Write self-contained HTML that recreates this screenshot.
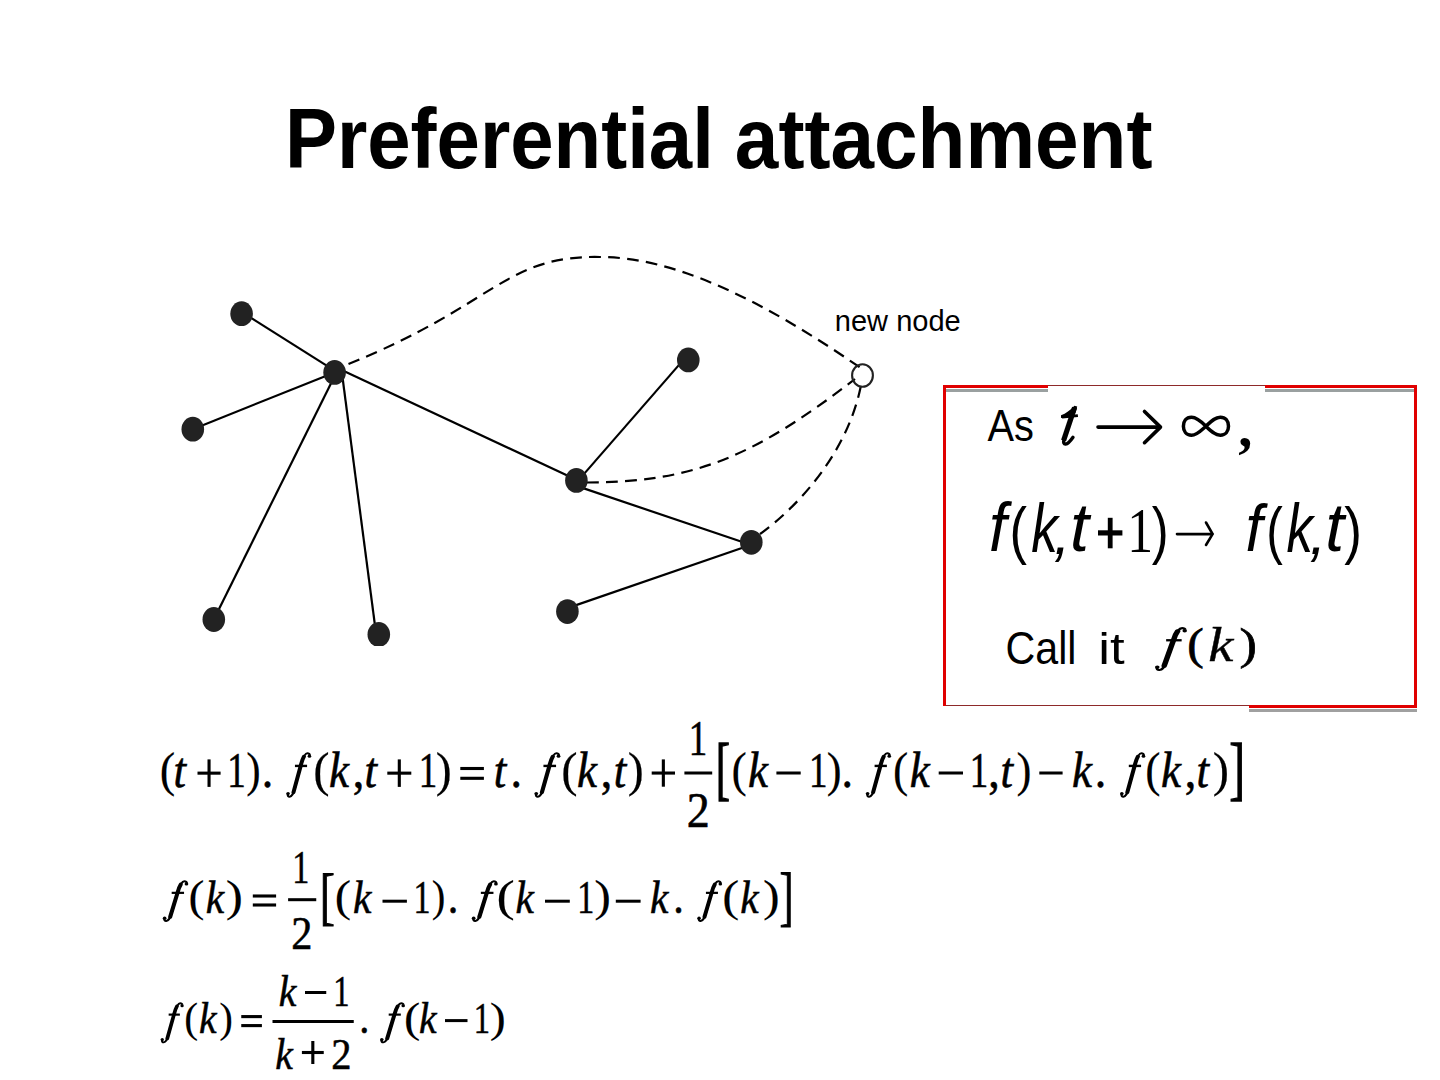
<!DOCTYPE html>
<html><head><meta charset="utf-8"><title>Preferential attachment</title>
<style>
html,body{margin:0;padding:0;background:#fff;}
body{width:1440px;height:1080px;overflow:hidden;position:relative;}
svg{position:absolute;left:0;top:0;}
text{font-size:100px;white-space:pre;}
.sans{font-family:"Liberation Sans",sans-serif;}
.serif{font-family:"Liberation Serif",serif;}
.eq text{stroke:#000;stroke-width:1.2px;}
</style></head><body>
<svg width="1440" height="1080" viewBox="0 0 1440 1080">
<text transform="translate(284.93 167.65) scale(0.77968 0.85034)" class="sans" font-weight="bold">Preferential</text>
<text transform="translate(734.85 167.65) scale(0.78299 0.85034)" class="sans" font-weight="bold">attachment</text>
<text transform="translate(834.81 330.54) scale(0.29054 0.30405)" class="sans">new node</text>
<g stroke="#000" stroke-width="2.2"><line x1="241.6" y1="311.9" x2="334.6" y2="370.6"/><line x1="192.8" y1="429.2" x2="334.6" y2="372.4"/><line x1="213.8" y1="619.5" x2="336.4" y2="372.4"/><line x1="376.1" y1="634" x2="341.8" y2="372"/><line x1="340" y1="369.2" x2="576.4" y2="479.8"/><line x1="578.4" y1="480.4" x2="683.4" y2="359.9"/><line x1="576.4" y1="485.9" x2="751.3" y2="545"/><line x1="567.4" y1="608.1" x2="751.3" y2="544.8"/><path d="M348.5,364 C495,305 505,255 600,257 C670,257 755,295 860,367.5" fill="none" stroke-dasharray="11.7 7.3"/><path d="M587,482.5 C690,482 750,460 855,379" fill="none" stroke-dasharray="11.7 7.3"/><path d="M760,534 C800,505 850,450 862,380" fill="none" stroke-dasharray="11.7 7.3"/></g><ellipse cx="241.6" cy="313.7" rx="11.3" ry="12.4" fill="#222"/><ellipse cx="334.6" cy="372.4" rx="11.3" ry="12.4" fill="#222"/><ellipse cx="192.8" cy="429.2" rx="11.3" ry="12.4" fill="#222"/><ellipse cx="213.8" cy="619.5" rx="11.3" ry="12.4" fill="#222"/><ellipse cx="378.8" cy="634.4" rx="11.3" ry="12.4" fill="#222"/><ellipse cx="688.3" cy="359.9" rx="11.3" ry="12.4" fill="#222"/><ellipse cx="576.4" cy="480.4" rx="11.3" ry="12.4" fill="#222"/><ellipse cx="751.3" cy="542.3" rx="11.3" ry="12.4" fill="#222"/><ellipse cx="567.4" cy="611.6" rx="11.3" ry="12.4" fill="#222"/><ellipse cx="862.5" cy="375.5" rx="10.4" ry="11.2" fill="none" stroke="#222" stroke-width="2.1"/>
<rect x="360" y="646" width="40" height="20" fill="#fff"/>
<rect x="943" y="389" width="474" height="3" fill="#9aa0a0"/><rect x="943" y="709" width="474" height="3" fill="#a0a0a0"/><rect x="944.5" y="386.5" width="471" height="320" fill="none" stroke="#e00000" stroke-width="3"/><rect x="1048" y="386" width="217" height="120" fill="#fff"/><rect x="940" y="706" width="309" height="10" fill="#fff"/><rect x="1048" y="385" width="217" height="1" fill="#8e2a2a"/><rect x="946" y="705" width="303" height="1" fill="#8e2a2a"/>
<text transform="translate(987.60 441.35) scale(0.39733 0.44571)" class="sans">As</text>
<g fill="none" stroke="#000"><path d="M1074.6,407.5 L1063.6,440.5" stroke-width="5.2"/><path d="M1063.9,439.5 C1062.6,445.8 1066.8,446.3 1073,437.3" stroke-width="3.4" stroke-linecap="round"/><path d="M1062,417 L1077.9,415.6" stroke-width="2.9"/></g><path d="M1074.4,405.8 C1070,410.5 1066,413.5 1061,415.2 L1061,418 L1070,417 L1075.6,412.5 L1077.2,406.4 Z" fill="#000"/>
<g stroke="#000" stroke-width="3.6" fill="none" stroke-linecap="round" stroke-linejoin="round"><path d="M1098,427.1 H1159"/><path d="M1144.5,411.5 L1160.5,427.1 L1144.5,442.7"/></g>
<path d="M1205.9,426.25 C1198,418 1193,417.2 1191.5,417.2 C1186,417.2 1183.4,421.5 1183.4,426.25 C1183.4,431 1186,435.2 1191.5,435.2 C1197,435.2 1201,430.5 1205.9,426.25 C1211,421.5 1215,417.2 1220.3,417.2 C1225.5,417.2 1228.5,421 1228.5,426.25 C1228.5,431.5 1225.5,435.2 1220.3,435.2 C1215,435.2 1211,431 1205.9,426.25 Z" fill="none" stroke="#000" stroke-width="3.5"/>
<text transform="translate(1238.15 446.41) scale(0.56410 0.57333)" class="serif" font-weight="bold">,</text>
<text transform="translate(988.89 551.46) scale(0.63030 0.68493)" class="sans" font-style="italic">f</text>
<text transform="translate(1009.45 551.91) scale(0.52453 0.62353)" class="sans">(</text>
<text transform="translate(1031.20 551.80) scale(0.53143 0.68000)" class="sans" font-style="italic">k</text>
<text transform="translate(1053.71 553.65) scale(0.60417 0.60417)" class="sans" font-style="italic">,</text>
<text transform="translate(1069.93 551.11) scale(0.68302 0.69394)" class="sans" font-style="italic">t</text>
<rect x="1098" y="530.3" width="24.4" height="5.2" fill="#000"/><rect x="1107.8" y="517.8" width="4.8" height="30.5" fill="#000"/>
<text transform="translate(1127.35 551.80) scale(0.51714 0.64242)" class="serif">1</text>
<text transform="translate(1151.69 551.91) scale(0.50769 0.62353)" class="sans">)</text>
<g stroke="#000" stroke-width="2.6" fill="none" stroke-linecap="round"><path d="M1177,534.1 H1212"/><path d="M1206,522.5 L1212.6,534.1 L1206,545"/></g>
<text transform="translate(1245.46 551.46) scale(0.61212 0.67534)" class="sans" font-style="italic">f</text>
<text transform="translate(1266.21 551.91) scale(0.49811 0.62353)" class="sans">(</text>
<text transform="translate(1286.41 551.80) scale(0.52952 0.68000)" class="sans" font-style="italic">k</text>
<text transform="translate(1309.56 553.65) scale(0.60417 0.60417)" class="sans" font-style="italic">,</text>
<text transform="translate(1325.13 551.11) scale(0.68113 0.69394)" class="sans" font-style="italic">t</text>
<text transform="translate(1344.37 551.91) scale(0.53269 0.62353)" class="sans">)</text>
<text transform="translate(1005.54 663.64) scale(0.41184 0.45578)" class="sans">Call</text>
<text transform="translate(1098.17 663.66) scale(0.52791 0.44354)" class="sans">it</text>
<g transform="translate(1155.00 660.28) scale(0.6362 0.4633)"><path d="M3.4,14.8 C2.2,19.5 4.5,21.2 6.8,21 C11,20.6 14.5,16 17.5,3 L29,-43 C33,-59 37,-69.5 42.5,-69.5 C45,-69.5 47,-68 47.3,-65.5" fill="none" stroke="#000" stroke-width="4.76"/><path d="M14.5,12 L29,-43 C31,-52 33,-58 35.5,-62.5" fill="none" stroke="#000" stroke-width="8.68" stroke-linecap="round"/><circle cx="3.6" cy="14.6" r="3.6"/><circle cx="46.7" cy="-63.6" r="3.6"/><rect x="17.5" y="-45.7" width="24.4" height="5"/></g>
<text transform="translate(1187.18 659.19) scale(0.49412 0.44333)" class="serif" stroke="#000" stroke-width="1.6">(</text>
<text transform="translate(1208.20 661.00) scale(0.56512 0.48058)" class="serif" font-style="italic" stroke="#000" stroke-width="0.8">k</text>
<text transform="translate(1239.43 659.19) scale(0.52308 0.44333)" class="serif" stroke="#000" stroke-width="1.6">)</text>
<g fill="#000" class="eq"><text transform="translate(159.81 786.04) scale(0.46471 0.48611)" class="serif" style="stroke-width:0.3px">(</text><text transform="translate(173.60 787.00) scale(0.45000 0.50000)" class="serif" font-style="italic">t</text><rect x="197.50" y="771.60" width="23.10" height="3.1"/><rect x="207.50" y="759.40" width="3.1" height="27.50"/><text transform="translate(227.37 787.00) scale(0.37000 0.50000)" class="serif">1</text><text transform="translate(246.20 786.04) scale(0.43269 0.48611)" class="serif" style="stroke-width:0.3px">)</text><text transform="translate(261.75 787.00) scale(0.46000 0.50000)" class="serif">.</text><g transform="translate(286.25 786.62) scale(0.4970 0.4792)"><path d="M3.4,14.8 C2.2,19.5 4.5,21.2 6.8,21 C11,20.6 14.5,16 17.5,3 L29,-43 C33,-59 37,-69.5 42.5,-69.5 C45,-69.5 47,-68 47.3,-65.5" fill="none" stroke="#000" stroke-width="4.42"/><path d="M14.5,12 L29,-43 C31,-52 33,-58 35.5,-62.5" fill="none" stroke="#000" stroke-width="8.06" stroke-linecap="round"/><circle cx="3.6" cy="14.6" r="3.6"/><circle cx="46.7" cy="-63.6" r="3.6"/><rect x="17.5" y="-45.7" width="24.4" height="5"/></g><text transform="translate(313.19 786.04) scale(0.49020 0.48611)" class="serif" style="stroke-width:0.3px">(</text><text transform="translate(328.88 787.00) scale(0.45000 0.50000)" class="serif" font-style="italic">k</text><text transform="translate(352.82 787.00) scale(0.46000 0.50000)" class="serif">,</text><text transform="translate(364.55 787.00) scale(0.45000 0.50000)" class="serif" font-style="italic">t</text><rect x="387.30" y="771.60" width="24.00" height="3.1"/><rect x="397.75" y="759.40" width="3.1" height="27.50"/><text transform="translate(418.64 787.00) scale(0.37000 0.50000)" class="serif">1</text><text transform="translate(435.86 786.04) scale(0.48077 0.48611)" class="serif" style="stroke-width:0.3px">)</text><rect x="460.30" y="766.95" width="23.60" height="3.1"/><rect x="460.30" y="776.75" width="23.60" height="3.1"/><text transform="translate(493.85 787.00) scale(0.45000 0.50000)" class="serif" font-style="italic">t</text><text transform="translate(510.50 787.00) scale(0.46000 0.50000)" class="serif">.</text><g transform="translate(534.40 786.62) scale(0.5169 0.4792)"><path d="M3.4,14.8 C2.2,19.5 4.5,21.2 6.8,21 C11,20.6 14.5,16 17.5,3 L29,-43 C33,-59 37,-69.5 42.5,-69.5 C45,-69.5 47,-68 47.3,-65.5" fill="none" stroke="#000" stroke-width="4.42"/><path d="M14.5,12 L29,-43 C31,-52 33,-58 35.5,-62.5" fill="none" stroke="#000" stroke-width="8.06" stroke-linecap="round"/><circle cx="3.6" cy="14.6" r="3.6"/><circle cx="46.7" cy="-63.6" r="3.6"/><rect x="17.5" y="-45.7" width="24.4" height="5"/></g><text transform="translate(561.29 786.04) scale(0.49020 0.48611)" class="serif" style="stroke-width:0.3px">(</text><text transform="translate(576.98 787.00) scale(0.45000 0.50000)" class="serif" font-style="italic">k</text><text transform="translate(600.83 787.00) scale(0.46000 0.50000)" class="serif">,</text><text transform="translate(613.65 787.00) scale(0.45000 0.50000)" class="serif" font-style="italic">t</text><text transform="translate(627.76 786.04) scale(0.48077 0.48611)" class="serif" style="stroke-width:0.3px">)</text><rect x="651.70" y="771.50" width="23.30" height="3.1"/><rect x="661.80" y="759.40" width="3.1" height="27.30"/><rect x="684.40" y="771.50" width="27.80" height="3.0"/><text transform="translate(688.85 755.00) scale(0.37000 0.50000)" class="serif">1</text><text transform="translate(686.78 826.70) scale(0.46000 0.50000)" class="serif">2</text><text transform="translate(715.70 792.24) scale(0.42727 0.70061)" class="serif" style="stroke-width:1.8px">[</text><text transform="translate(731.54 786.04) scale(0.45882 0.48611)" class="serif" style="stroke-width:0.3px">(</text><text transform="translate(747.88 787.00) scale(0.45000 0.50000)" class="serif" font-style="italic">k</text><rect x="776.40" y="771.50" width="24.30" height="3.0"/><text transform="translate(808.90 787.00) scale(0.37000 0.50000)" class="serif">1</text><text transform="translate(826.66 786.04) scale(0.44615 0.48611)" class="serif" style="stroke-width:0.3px">)</text><text transform="translate(841.60 787.00) scale(0.46000 0.50000)" class="serif">.</text><g transform="translate(865.80 786.62) scale(0.5030 0.4792)"><path d="M3.4,14.8 C2.2,19.5 4.5,21.2 6.8,21 C11,20.6 14.5,16 17.5,3 L29,-43 C33,-59 37,-69.5 42.5,-69.5 C45,-69.5 47,-68 47.3,-65.5" fill="none" stroke="#000" stroke-width="4.42"/><path d="M14.5,12 L29,-43 C31,-52 33,-58 35.5,-62.5" fill="none" stroke="#000" stroke-width="8.06" stroke-linecap="round"/><circle cx="3.6" cy="14.6" r="3.6"/><circle cx="46.7" cy="-63.6" r="3.6"/><rect x="17.5" y="-45.7" width="24.4" height="5"/></g><text transform="translate(892.94 786.04) scale(0.45882 0.48611)" class="serif" style="stroke-width:0.3px">(</text><text transform="translate(909.73 787.00) scale(0.45000 0.50000)" class="serif" font-style="italic">k</text><rect x="938.70" y="771.50" width="24.30" height="3.0"/><text transform="translate(969.79 787.00) scale(0.37000 0.50000)" class="serif">1</text><text transform="translate(988.33 787.00) scale(0.46000 0.50000)" class="serif">,</text><text transform="translate(1000.55 787.00) scale(0.45000 0.50000)" class="serif" font-style="italic">t</text><text transform="translate(1016.55 786.04) scale(0.45000 0.48611)" class="serif" style="stroke-width:0.3px">)</text><rect x="1039.30" y="771.50" width="23.30" height="3.0"/><text transform="translate(1072.02 787.00) scale(0.45000 0.50000)" class="serif" font-style="italic">k</text><text transform="translate(1094.80 787.00) scale(0.46000 0.50000)" class="serif">.</text><g transform="translate(1120.00 786.62) scale(0.5030 0.4792)"><path d="M3.4,14.8 C2.2,19.5 4.5,21.2 6.8,21 C11,20.6 14.5,16 17.5,3 L29,-43 C33,-59 37,-69.5 42.5,-69.5 C45,-69.5 47,-68 47.3,-65.5" fill="none" stroke="#000" stroke-width="4.42"/><path d="M14.5,12 L29,-43 C31,-52 33,-58 35.5,-62.5" fill="none" stroke="#000" stroke-width="8.06" stroke-linecap="round"/><circle cx="3.6" cy="14.6" r="3.6"/><circle cx="46.7" cy="-63.6" r="3.6"/><rect x="17.5" y="-45.7" width="24.4" height="5"/></g><text transform="translate(1145.14 786.04) scale(0.45882 0.48611)" class="serif" style="stroke-width:0.3px">(</text><text transform="translate(1160.97 787.00) scale(0.45000 0.50000)" class="serif" font-style="italic">k</text><text transform="translate(1184.83 787.00) scale(0.46000 0.50000)" class="serif">,</text><text transform="translate(1196.45 787.00) scale(0.45000 0.50000)" class="serif" font-style="italic">t</text><text transform="translate(1212.83 786.04) scale(0.48846 0.48611)" class="serif" style="stroke-width:0.3px">)</text><text transform="translate(1229.14 792.12) scale(0.47556 0.69455)" class="serif" style="stroke-width:1.8px">]</text><g transform="translate(162.80 911.76) scale(0.5070 0.4377)"><path d="M3.4,14.8 C2.2,19.5 4.5,21.2 6.8,21 C11,20.6 14.5,16 17.5,3 L29,-43 C33,-59 37,-69.5 42.5,-69.5 C45,-69.5 47,-68 47.3,-65.5" fill="none" stroke="#000" stroke-width="4.42"/><path d="M14.5,12 L29,-43 C31,-52 33,-58 35.5,-62.5" fill="none" stroke="#000" stroke-width="8.06" stroke-linecap="round"/><circle cx="3.6" cy="14.6" r="3.6"/><circle cx="46.7" cy="-63.6" r="3.6"/><rect x="17.5" y="-45.7" width="24.4" height="5"/></g><text transform="translate(188.45 910.81) scale(0.47843 0.43778)" class="serif" style="stroke-width:0.3px">(</text><text transform="translate(205.86 913.00) scale(0.41400 0.46000)" class="serif" font-style="italic">k</text><text transform="translate(225.65 910.81) scale(0.51538 0.43778)" class="serif" style="stroke-width:0.3px">)</text><rect x="252.80" y="894.45" width="23.30" height="3.1"/><rect x="252.80" y="903.45" width="23.30" height="3.1"/><rect x="288.10" y="898.20" width="28.15" height="3.0"/><text transform="translate(292.23 882.50) scale(0.34040 0.46000)" class="serif">1</text><text transform="translate(291.21 948.75) scale(0.42320 0.46000)" class="serif">2</text><text transform="translate(319.69 917.12) scale(0.45455 0.62848)" class="serif" style="stroke-width:1.5px">[</text><text transform="translate(334.69 910.81) scale(0.49020 0.43778)" class="serif" style="stroke-width:0.3px">(</text><text transform="translate(352.96 913.00) scale(0.41400 0.46000)" class="serif" font-style="italic">k</text><rect x="382.50" y="899.70" width="24.40" height="3.0"/><text transform="translate(413.48 913.00) scale(0.34040 0.46000)" class="serif">1</text><text transform="translate(431.87 910.81) scale(0.40962 0.43778)" class="serif" style="stroke-width:0.3px">)</text><text transform="translate(447.81 913.00) scale(0.42320 0.46000)" class="serif">.</text><g transform="translate(471.80 911.76) scale(0.5169 0.4377)"><path d="M3.4,14.8 C2.2,19.5 4.5,21.2 6.8,21 C11,20.6 14.5,16 17.5,3 L29,-43 C33,-59 37,-69.5 42.5,-69.5 C45,-69.5 47,-68 47.3,-65.5" fill="none" stroke="#000" stroke-width="4.42"/><path d="M14.5,12 L29,-43 C31,-52 33,-58 35.5,-62.5" fill="none" stroke="#000" stroke-width="8.06" stroke-linecap="round"/><circle cx="3.6" cy="14.6" r="3.6"/><circle cx="46.7" cy="-63.6" r="3.6"/><rect x="17.5" y="-45.7" width="24.4" height="5"/></g><text transform="translate(496.53 910.81) scale(0.54902 0.43778)" class="serif" style="stroke-width:0.3px">(</text><text transform="translate(515.41 913.00) scale(0.41400 0.46000)" class="serif" font-style="italic">k</text><rect x="545.00" y="899.70" width="24.80" height="3.0"/><text transform="translate(577.28 913.00) scale(0.34040 0.46000)" class="serif">1</text><text transform="translate(594.30 910.81) scale(0.50000 0.43778)" class="serif" style="stroke-width:0.3px">)</text><rect x="615.80" y="899.70" width="24.80" height="3.0"/><text transform="translate(649.96 913.00) scale(0.41400 0.46000)" class="serif" font-style="italic">k</text><text transform="translate(673.16 913.00) scale(0.42320 0.46000)" class="serif">.</text><g transform="translate(697.30 911.76) scale(0.4930 0.4377)"><path d="M3.4,14.8 C2.2,19.5 4.5,21.2 6.8,21 C11,20.6 14.5,16 17.5,3 L29,-43 C33,-59 37,-69.5 42.5,-69.5 C45,-69.5 47,-68 47.3,-65.5" fill="none" stroke="#000" stroke-width="4.42"/><path d="M14.5,12 L29,-43 C31,-52 33,-58 35.5,-62.5" fill="none" stroke="#000" stroke-width="8.06" stroke-linecap="round"/><circle cx="3.6" cy="14.6" r="3.6"/><circle cx="46.7" cy="-63.6" r="3.6"/><rect x="17.5" y="-45.7" width="24.4" height="5"/></g><text transform="translate(722.21 910.81) scale(0.50980 0.43778)" class="serif" style="stroke-width:0.3px">(</text><text transform="translate(740.26 913.00) scale(0.41400 0.46000)" class="serif" font-style="italic">k</text><text transform="translate(763.10 910.81) scale(0.50000 0.43778)" class="serif" style="stroke-width:0.3px">)</text><text transform="translate(779.62 917.79) scale(0.42222 0.64485)" class="serif" style="stroke-width:1.5px">]</text><g transform="translate(160.60 1033.29) scale(0.4602 0.4324)"><path d="M3.4,14.8 C2.2,19.5 4.5,21.2 6.8,21 C11,20.6 14.5,16 17.5,3 L29,-43 C33,-59 37,-69.5 42.5,-69.5 C45,-69.5 47,-68 47.3,-65.5" fill="none" stroke="#000" stroke-width="4.42"/><path d="M14.5,12 L29,-43 C31,-52 33,-58 35.5,-62.5" fill="none" stroke="#000" stroke-width="8.06" stroke-linecap="round"/><circle cx="3.6" cy="14.6" r="3.6"/><circle cx="46.7" cy="-63.6" r="3.6"/><rect x="17.5" y="-45.7" width="24.4" height="5"/></g><text transform="translate(184.37 1032.35) scale(0.41765 0.42389)" class="serif" style="stroke-width:0.3px">(</text><text transform="translate(199.05 1033.00) scale(0.39600 0.44000)" class="serif" font-style="italic">k</text><text transform="translate(219.37 1032.35) scale(0.40962 0.42389)" class="serif" style="stroke-width:0.3px">)</text><rect x="241.25" y="1015.05" width="20.65" height="3.1"/><rect x="241.25" y="1024.05" width="20.65" height="3.1"/><rect x="272.50" y="1020.00" width="81.25" height="3.0"/><text transform="translate(278.75 1005.50) scale(0.39600 0.44000)" class="serif" font-style="italic">k</text><rect x="305.00" y="991.00" width="21.25" height="3.0"/><text transform="translate(333.25 1005.50) scale(0.32560 0.44000)" class="serif">1</text><text transform="translate(275.30 1068.50) scale(0.39600 0.44000)" class="serif" font-style="italic">k</text><rect x="301.90" y="1050.95" width="21.85" height="3.1"/><rect x="311.27" y="1041.00" width="3.1" height="23.00"/><text transform="translate(331.33 1068.50) scale(0.40480 0.44000)" class="serif">2</text><text transform="translate(359.31 1033.00) scale(0.40480 0.44000)" class="serif">.</text><g transform="translate(380.00 1033.29) scale(0.4970 0.4324)"><path d="M3.4,14.8 C2.2,19.5 4.5,21.2 6.8,21 C11,20.6 14.5,16 17.5,3 L29,-43 C33,-59 37,-69.5 42.5,-69.5 C45,-69.5 47,-68 47.3,-65.5" fill="none" stroke="#000" stroke-width="4.42"/><path d="M14.5,12 L29,-43 C31,-52 33,-58 35.5,-62.5" fill="none" stroke="#000" stroke-width="8.06" stroke-linecap="round"/><circle cx="3.6" cy="14.6" r="3.6"/><circle cx="46.7" cy="-63.6" r="3.6"/><rect x="17.5" y="-45.7" width="24.4" height="5"/></g><text transform="translate(404.04 1032.35) scale(0.49020 0.42389)" class="serif" style="stroke-width:0.3px">(</text><text transform="translate(419.05 1033.00) scale(0.39600 0.44000)" class="serif" font-style="italic">k</text><rect x="445.00" y="1019.10" width="22.50" height="3.0"/><text transform="translate(473.87 1033.00) scale(0.32560 0.44000)" class="serif">1</text><text transform="translate(489.81 1032.35) scale(0.48077 0.42389)" class="serif" style="stroke-width:0.3px">)</text></g>
</svg>
</body></html>
